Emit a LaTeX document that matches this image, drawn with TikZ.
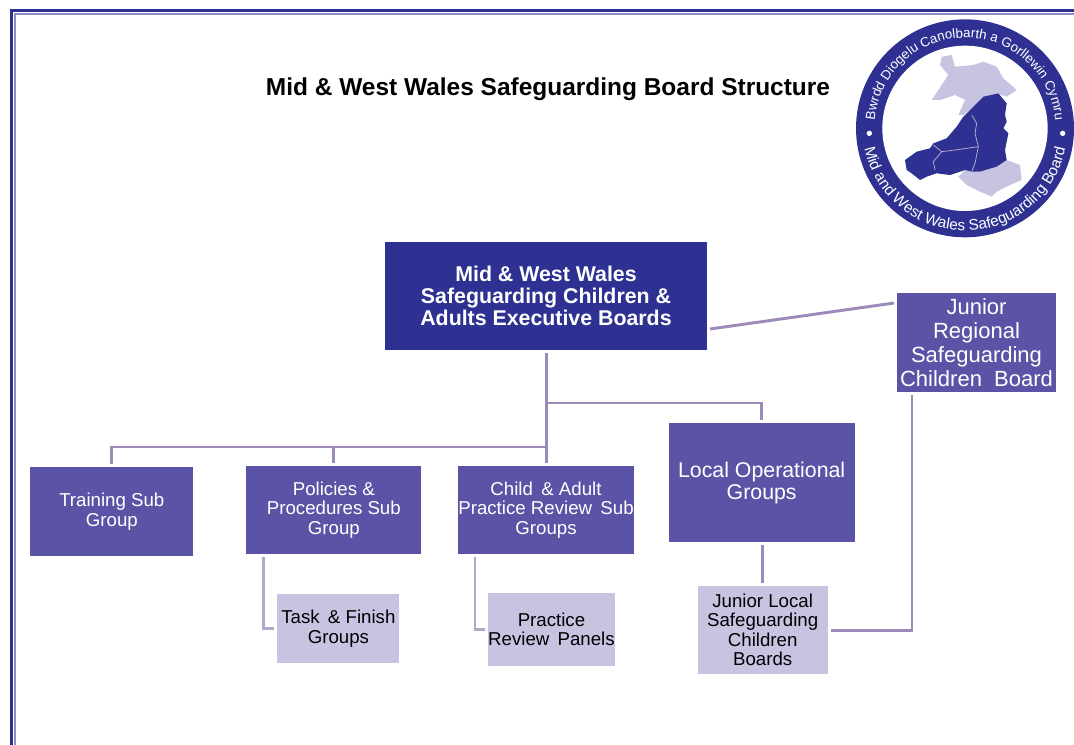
\documentclass[tikz,border=0pt]{standalone}
\usepackage{fontspec}
\setmainfont{Liberation Sans}
\usetikzlibrary{positioning}
\usetikzlibrary{decorations.text}
\definecolor{boardnavy}{HTML}{2E3192}
\definecolor{groupblue}{HTML}{5B54A6}
\definecolor{panellilac}{HTML}{C7C4E2}
\definecolor{linkmauve}{HTML}{9C8ABA}
\definecolor{linklilac}{HTML}{B3A8CC}
\definecolor{framelilac}{HTML}{8F8CC4}
\begin{document}
\begin{tikzpicture}[
  x=0.75pt, y=-0.75pt,
  box/.style={rectangle, align=center, inner sep=0pt, outer sep=2.25pt},
  execbox/.style={box, fill=boardnavy, text=white, font=\bfseries\fontsize{16}{16.5}\selectfont, minimum width=241.5pt, minimum height=81pt},
  groupbox/.style={box, fill=groupblue, text=white, font=\fontsize{14}{14.6}\selectfont, minimum height=66pt},
  bigbox/.style={box, fill=groupblue, text=white, font=\fontsize{16.5}{18}\selectfont},
  localbox/.style={box, fill=groupblue, text=white, font=\fontsize{16}{16.5}\selectfont},
  panelbox/.style={box, fill=panellilac, text=black, font=\fontsize{14}{14.6}\selectfont},
  link/.style={draw=linkmauve, line width=2.2pt},
  sublink/.style={draw=linklilac, line width=2pt}
]
\useasboundingbox (0,0) rectangle (1074,745);

% Frame
\draw[boardnavy, line width=2.6pt] (11.7,745) -- (11.7,10.7) -- (1074,10.7);
\draw[framelilac, line width=1.3pt] (15.3,745) -- (15.3,14.3) -- (1074,14.3);

% Title
\node[font=\bfseries\fontsize{18.35}{20}\selectfont] (title) at (548,89.5) {Mid \& West Wales Safeguarding Board Structure};

% Nodes
\node[execbox] (exec) at (546,296) {Mid \& West Wales\\Safeguarding Children \&\\Adults Executive Boards};
\node[bigbox, minimum width=119.25pt, minimum height=74.25pt] (regional) at (976.5,342.5) {Junior\\Regional\\Safeguarding\\Children~ Board};

\node[groupbox, minimum width=132pt, below=82.5pt of exec] (child) {Child\, \& Adult\\Practice Review\, Sub\\Groups};
\node[groupbox, minimum width=131.25pt, left=23pt of child] (policies) {Policies \&\\Procedures Sub\\Group};
\node[groupbox, minimum width=122.25pt, minimum height=66.75pt, left=35.25pt of policies, yshift=-1.1pt] (training) {Training Sub\\Group};
\node[localbox, minimum width=139.5pt, minimum height=89.25pt, right=21.5pt of child, yshift=20.6pt] (local) {Local Operational\\Groups};

\node[panelbox, minimum width=91.5pt, minimum height=51.75pt, below=25.5pt of policies, xshift=3.4pt] (task) {Task\, \& Finish\\Groups};
\node[panelbox, minimum width=95.25pt, minimum height=54.75pt, below=24.75pt of child, xshift=4.1pt] (practice) {Practice\\Review\, Panels};
\node[panelbox, minimum width=97.5pt, minimum height=66pt, below=28.5pt of local, xshift=0.75pt] (juniorlocal) {Junior Local\\Safeguarding\\Children\\Boards};

% Edges
\coordinate (lowbus) at (546.7,447);
\coordinate (highbus) at (546.7,403);
\draw[link] ([xshift=0.5pt]exec.south) -- ([xshift=0.5pt]child.north);
\draw[link] (lowbus) -| (training.north);
\draw[link] (lowbus) -| (policies.north);
\draw[link] (highbus) -| (local.north);
\draw[link] ([yshift=-24.75pt]exec.east) -- ([yshift=29.6pt]regional.west);
\draw[link] (juniorlocal.north) -- (juniorlocal.north |- local.south);
\draw[link] ([xshift=13.5pt]regional.south west) |- (juniorlocal.east);
\draw[sublink] ([xshift=15pt]policies.south west) |- (task.west);
\draw[sublink] ([xshift=15pt]child.south west) |- (practice.west);

% Logo
\begin{scope}[shift={(840,0)}, x=0.25pt, y=-0.25pt]
\fill[boardnavy] (375,385) circle[radius=327];
\fill[white] (375,385) circle[radius=248];
\fill[panellilac] (305,170) -- (335,165) -- (345,200) -- (400,195) -- (430,185) -- (470,200) -- (490,235) -- (530,270) -- (500,290) -- (470,280) -- (430,290) -- (395,325) -- (370,345) -- (355,345) -- (375,300) -- (345,285) -- (300,300) -- (275,300) -- (295,270) -- (325,225) -- (300,195) -- cycle;
\fill[panellilac] (500,480) -- (540,495) -- (545,540) -- (510,555) -- (470,575) -- (455,590) -- (420,575) -- (380,555) -- (355,530) -- (375,510) -- (420,515) -- (470,500) -- cycle;
\fill[boardnavy] (430,290) -- (475,280) -- (500,310) -- (495,345) -- (500,365) -- (490,385) -- (505,400) -- (495,450) -- (500,480) -- (470,500) -- (420,515) -- (395,515) -- (375,510) -- (330,525) -- (290,520) -- (260,530) -- (240,540) -- (215,520) -- (200,510) -- (195,480) -- (230,455) -- (270,445) -- (280,430) -- (320,415) -- (350,380) -- (370,350) -- (395,325) -- cycle;
\draw[linklilac, line width=0.6pt] (395,345) -- (410,370) -- (405,400) -- (415,440) -- (405,490) -- (395,515);
\draw[linklilac, line width=0.6pt] (280,435) -- (305,455) -- (345,450) -- (415,440);
\draw[linklilac, line width=0.6pt] (305,455) -- (280,485) -- (285,510);
\fill[white] (88,400) circle[radius=8];
\fill[white] (668,400) circle[radius=8];
\path[postaction={decorate, decoration={text along path, text align=center, text color=white, text={|\fontsize{10}{12}\selectfont|Bwrdd Diogelu Canolbarth a Gorllewin Cymru}}}]
  (375,385) ++(184:272) arc[start angle=184, end angle=356, radius=272];
\path[postaction={decorate, decoration={text along path, text align=center, text color=white, text={|\fontsize{11.5}{12}\selectfont|Mid and West Wales Safeguarding Board}}}]
  (375,385) ++(175:307) arc[start angle=175, end angle=5, radius=307];
\end{scope}
\end{tikzpicture}
\end{document}
